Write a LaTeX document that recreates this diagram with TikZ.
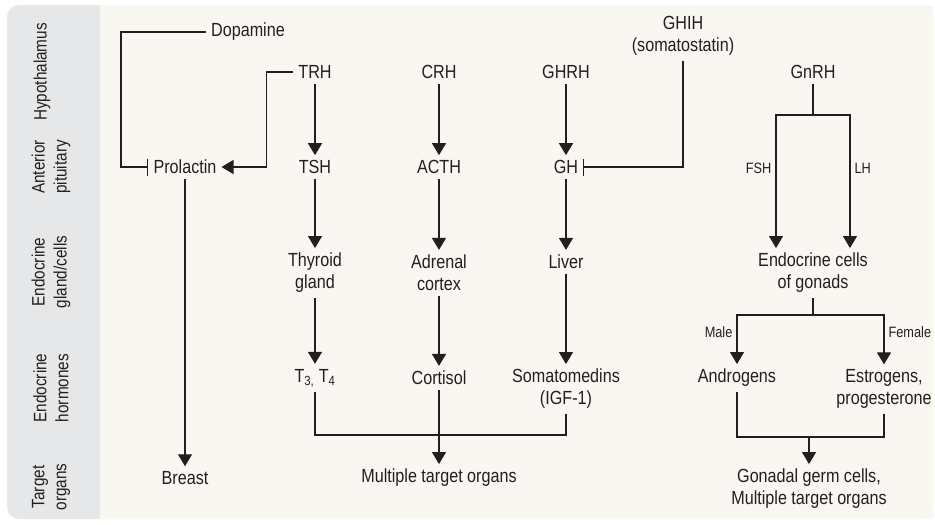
\documentclass[tikz,border=0pt]{standalone}
\usepackage{fontspec}
\setmainfont{Liberation Sans}[FakeStretch=0.85]
\usepackage{tikz}
\usetikzlibrary{arrows.meta}
\definecolor{inkgray}{HTML}{231F20}
\definecolor{rowgray}{HTML}{E6E7E9}
\definecolor{panelbeige}{HTML}{F8F7F1}

\begin{document}
\begin{tikzpicture}[
  x=1pt, y=-1pt,
  >={Triangle[length=12pt,width=14pt]},
  line width=1.2pt,
  color=inkgray,
  every node/.style={font=\fontsize{19}{22}\selectfont, align=center, inner sep=4.5pt},
  rowlab/.style={rotate=90, font=\fontsize{18}{22}\selectfont},
  tag/.style={font=\fontsize{15}{17}\selectfont, inner sep=4pt},
  inhib/.style={-{Bar[width=17pt]}},
]
\useasboundingbox (0,0) rectangle (935,525);

% --- Panel ---
\fill[rowgray, rounded corners=12pt] (7,5) rectangle (933,519);
\fill[panelbeige] (100,5) rectangle (933,519);

% --- Row labels ---
\node[rowlab] (lhyp) at (42,72) {Hypothalamus};
\node[rowlab] (lant) at (51,167) {Anterior\\pituitary};
\node[rowlab] (lgland) at (51,272) {Endocrine\\gland/cells};
\node[rowlab] (lhorm) at (51,388) {Endocrine\\hormones};
\node[rowlab] (ltarget) at (51,487) {Target\\organs};

% --- Hypothalamus ---
\node (dopa) at (248,32) {Dopamine};
\node (trh) at (315,72) {TRH};
\node (crh) at (439,72) {CRH};
\node (ghrh) at (566,72) {GHRH};
\node (ghih) at (683,36) {GHIH\\(somatostatin)};
\node (gnrh) at (813,72) {GnRH};

% --- Anterior pituitary ---
\node (prl) at (185,167) {Prolactin};
\node (tsh) at (315,167) {TSH};
\node (acth) at (439,167) {ACTH};
\node (gh) at (566,167) {GH};

% --- Glands ---
\node (thyr) at (315,273) {Thyroid\\gland};
\node (adr) at (439,273) {Adrenal\\cortex};
\node (liver) at (566,262) {Liver};
\node (gonc) at (813,273) {Endocrine cells\\of gonads};

% --- Hormones ---
\node (t34) at (315,378) {T\textsubscript{3,} T\textsubscript{4}};
\node (cort) at (439,378) {Cortisol};
\node (soma) at (566,389) {Somatomedins\\(IGF-1)};
\node (andr) at (737,378) {Androgens};
\node (estr) at (884,389) {Estrogens,\\progesterone};

% --- Targets ---
\node (breast) at (185,478) {Breast};
\node (mto) at (439,478) {Multiple target organs};
\node (gonad) at (809,489) {Gonadal germ cells,\\Multiple target organs};

% --- Prolactin axis ---
\draw[inhib] (dopa.west) -- ++(-85,0) |- (prl.west);
\draw[->] (trh.west) -- ++(-27,0) |- (prl.east);
\draw[->] (prl) -- (breast);

% --- Thyroid, adrenal, GH axes ---
\draw[->] (trh) -- (tsh);
\draw[->] (tsh) -- (thyr);
\draw[->] (thyr) -- (t34);
\draw[->] (crh) -- (acth);
\draw[->] (acth) -- (adr);
\draw[->] (adr) -- (cort);
\draw[->] (ghrh) -- (gh);
\draw[->] (gh) -- (liver);
\draw[->] (liver) -- (soma);
\draw[inhib] (ghih.south) |- (gh.east);

\coordinate (hjoin) at (439,435);
\draw (t34.south) |- (hjoin) -| (soma.south);
\draw[->] (cort) -- (mto);

% --- Gonadal axis ---
\coordinate (gsplit) at (813,115);
\draw (gnrh) -- (gsplit);
\draw[->] (gsplit) -| node[tag, pos=0.7, left] {FSH} ([xshift=-37pt]gonc.north);
\draw[->] (gsplit) -| node[tag, pos=0.7, right] {LH} ([xshift=37pt]gonc.north);

\coordinate (csplit) at (813,315);
\draw (gonc) -- (csplit);
\draw[->] (csplit) -| node[tag, pos=0.67, left] {Male} (andr.north);
\draw[->] (csplit) -| node[tag, pos=0.67, right] {Female} (estr.north);

\coordinate (gjoin) at (809,437);
\draw (andr.south) |- (gjoin) -| (estr.south);
\draw[->] (gjoin) -- (gonad.north);

\end{tikzpicture}
\end{document}
